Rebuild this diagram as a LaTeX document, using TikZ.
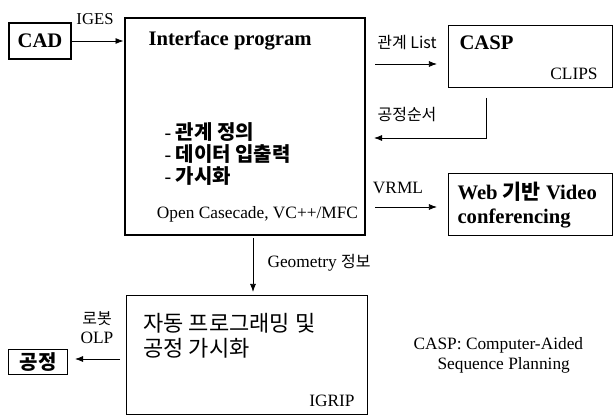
\documentclass[tikz,border=0pt]{standalone}
\usepackage{fontspec}
\setmainfont{Liberation Serif}
\newfontfamily\kr{Noto Sans CJK KR}
\usetikzlibrary{arrows.meta}

\tikzset{every picture/.style={line width=0.75pt}}
\tikzset{
  box/.style 2 args={draw, inner sep=0pt, minimum width=#1*0.75pt, minimum height=#2*0.75pt},
  flow/.style={-{Latex[length=6pt,width=4.5pt]}, line width=0.6pt},
  txt/.style={inner sep=0.75pt, font=\fontsize{13}{15}\selectfont},
  head/.style={inner sep=0.75pt, font=\fontsize{15.5}{18}\selectfont\bfseries},
}

\begin{document}
\begin{tikzpicture}[x=0.75pt,y=0.75pt,yscale=-1,xscale=1]
\useasboundingbox (0,0) rectangle (613,417);

%Shape: Rectangle [CAD]
\node[box={62}{36}, head, line width=0.9pt] (cad) at (40,41) {\rmfamily\bfseries CAD};
%Shape: Rectangle [interface]
\node[box={240}{217}, line width=2.2pt] (iface) at (245,126.5) {};
%Shape: Rectangle [CASP]
\node[box={164}{62}, line width=0.6pt] (casp) at (530,56) {};
%Shape: Rectangle [web]
\node[box={164}{62}, line width=0.6pt] (web) at (530,204) {};
%Shape: Rectangle [IGRIP]
\node[box={241}{119}, line width=0.6pt] (igrip) at (246.5,354.5) {};
%Shape: Rectangle [process]
\node[box={59}{25}, inner sep=0pt, font=\kr\fontsize{15}{17}\selectfont\bfseries] (proc) at (38,362) {공정};

% free ends
\coordinate (relS) at (375,64);
\coordinate (seqS) at (486,98);
\coordinate (seqE) at (374,138);
\coordinate (vrmlS) at (375,207);
\coordinate (geoS) at (253,238);
\coordinate (olpS) at (120,359);
\coordinate (olpE) at (75,359);

%Straight Lines
\draw[flow] (cad.east) -- (cad.east -| iface.west);
\draw[flow, shorten >=8pt] (relS) -- (relS -| casp.west);
\draw[flow] (seqS) |- (seqE);
\draw[flow, shorten >=8pt] (vrmlS) -- (vrmlS -| web.west);
\draw[flow, shorten >=2pt] (geoS) -- (geoS |- igrip.north);
\draw[flow] (olpS) -- (olpE);

% Text Node
\node[txt, font=\fontsize{12.5}{15}\selectfont] (iges) at (95,19) {IGES};
% Text Node
\node[head, anchor=west] (ititle) at (147,41) {Interface program};
% Text Node
\node[inner sep=0.75pt, anchor=north west, align=left,
  font=\kr\fontsize{15}{16.5}\selectfont\bfseries] (ilist) at (163,121)
  {{\rmfamily\mdseries -} 관계 정의\\{\rmfamily\mdseries -} 데이터 입출력\\{\rmfamily\mdseries -} 가시화};
% Text Node
\node[txt] (itool) at (257.5,214) {Open Casecade, VC++/MFC};
% Text Node
\node[head, anchor=west] (ctitle) at (458,43) {CASP};
% Text Node
\node[txt] (clips) at (574,74) {CLIPS};
% Text Node
\node[txt, font=\kr\fontsize{12}{14}\selectfont] (rel) at (407,43) {관계 List};
% Text Node
\node[txt, font=\kr\fontsize{12}{14}\selectfont] (seq) at (407,115) {공정순서};
% Text Node
\node[txt] (vrml) at (398,188) {VRML};
% Text Node
\node[head, anchor=west, align=left, font=\fontsize{15.5}{18}\selectfont\bfseries] (wtitle) at (456,205)
  {Web {\kr 기반} Video\\conferencing};
% Text Node
\node[txt, anchor=west] (geo) at (266,263) {Geometry {\kr\fontsize{12}{14}\selectfont 정보}};
% Text Node
\node[inner sep=0.75pt, anchor=west, align=left, font=\kr\fontsize{16.5}{18.75}\selectfont] (gtitle) at (142,336)
  {자동 프로그래밍 및\\공정 가시화};
% Text Node
\node[txt] (itag) at (332,401) {IGRIP};
% Text Node
\node[txt, font=\kr\fontsize{12}{14}\selectfont] (robot) at (97,319) {로봇};
% Text Node
\node[txt] (olp) at (97,338) {OLP};
% Text Node
\node[txt, anchor=west] (note1) at (412,345) {CASP: Computer-Aided};
% Text Node
\node[txt, anchor=west] (note2) at (436,365) {Sequence Planning};

\end{tikzpicture}
\end{document}
